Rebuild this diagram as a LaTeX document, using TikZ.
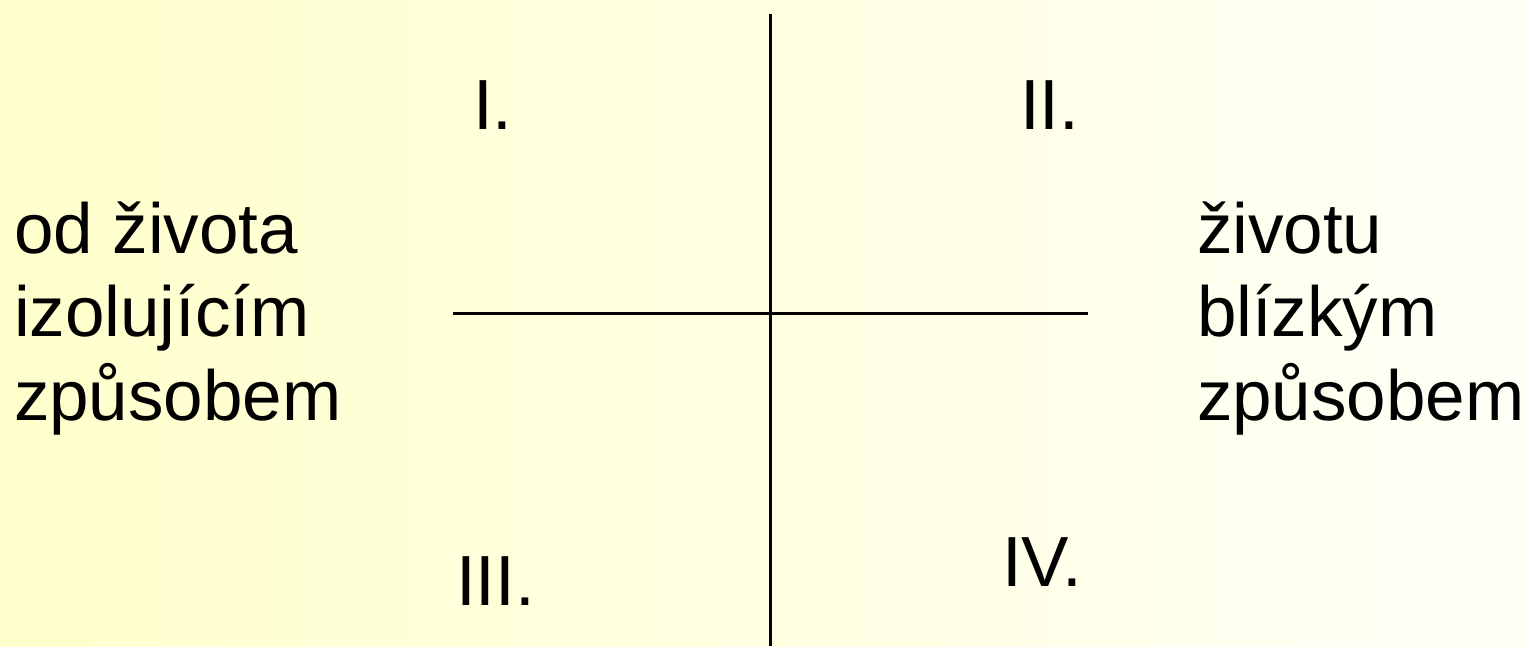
\documentclass[tikz,border=0pt]{standalone}
\usepackage{fontspec}
\setmainfont{Liberation Sans}
\definecolor{bgleft}{HTML}{FFFFCC}
\definecolor{bgright}{HTML}{FFFFF7}
\begin{document}
\begin{tikzpicture}[x=1pt,y=-1pt,
  lbl/.style={anchor=base west,inner sep=0pt,outer sep=0pt,font=\fontsize{71}{85}\selectfont},
  axis/.style={line width=3pt,black}]
\shade[left color=bgleft,right color=bgright] (0,0) rectangle (1526,646);
\useasboundingbox (0,0) rectangle (1526,646);
\coordinate (vtop) at (770.5,14);
\coordinate (vbot) at (770.5,646);
\coordinate (hl) at (453,313.5);
\coordinate (hr) at (1088,313.5);
\draw[axis] (vtop) -- (vbot);
\draw[axis] (hl) -- (hr);
\node[lbl] (q1) at (473,129) {I.};
\node[lbl] (q2) at (1020,129) {II.};
\node[lbl] (q3) at (456,605) {III.};
\node[lbl] (q4) at (1002,586) {IV.};
\node[lbl] (l1) at (14,253) {od života};
\node[lbl] (l2) at (14,336.5) {izolujícím};
\node[lbl] (l3) at (14,420) {způsobem};
\node[lbl] (r1) at (1197,253) {životu};
\node[lbl] (r2) at (1197,336.5) {blízkým};
\node[lbl] (r3) at (1197,420) {způsobem};
\end{tikzpicture}
\end{document}
